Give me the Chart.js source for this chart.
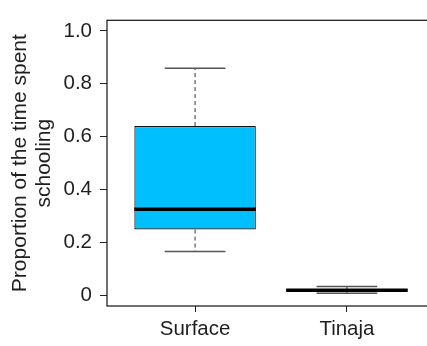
<!DOCTYPE html>
<html>
<head>
<meta charset="utf-8">
<script src="https://cdn.jsdelivr.net/npm/chart.js@4/dist/chart.umd.min.js"></script>
<style>
  html, body { margin: 0; padding: 0; background: #fff; overflow: hidden; }
  #wrap { width: 440px; height: 346px; position: relative; }
</style>
</head>
<body>
<div id="wrap"><canvas id="boxChart"></canvas></div>
<script>
// values
const categories = ["Surface", "Tinaja"];
const whiskerLow = [0.166, 0.008];
const q1 = [0.249, 0.016];
const median = [0.326, 0.020];
const q3 = [0.640, 0.024];
const whiskerHigh = [0.859, 0.034];
const yTicks = [0, 0.2, 0.4, 0.6, 0.8, 1.0];
const yTickLabels = ["0", "0.2", "0.4", "0.6", "0.8", "1.0"];

const textColor = "#1e1e1e";
const fontFamily = "Liberation Sans, Arial, sans-serif";
const boxHalf = 0.4;
const capHalf = 0.2;

// whiskers, caps, medians and the frame, all placed with the chart scales
const boxPlotLines = {
  id: "boxPlotLines",
  beforeDatasetsDraw(chart) {
    const { ctx, scales: { x, y } } = chart;
    ctx.save();
    categories.forEach((c, i) => {
      const px = x.getPixelForValue(i + 1);
      ctx.strokeStyle = "#333";
      ctx.lineWidth = 1;
      ctx.setLineDash([4, 3]);
      ctx.beginPath();
      ctx.moveTo(px, y.getPixelForValue(q3[i]));
      ctx.lineTo(px, y.getPixelForValue(whiskerHigh[i]));
      ctx.moveTo(px, y.getPixelForValue(q1[i]));
      ctx.lineTo(px, y.getPixelForValue(whiskerLow[i]));
      ctx.stroke();
      ctx.setLineDash([]);
      ctx.strokeStyle = "#555";
      ctx.lineWidth = 1.5;
      ctx.beginPath();
      [whiskerHigh[i], whiskerLow[i]].forEach((v) => {
        const py = y.getPixelForValue(v);
        ctx.moveTo(x.getPixelForValue(i + 1 - capHalf), py);
        ctx.lineTo(x.getPixelForValue(i + 1 + capHalf), py);
      });
      ctx.stroke();
    });
    ctx.restore();
  },
  afterDatasetsDraw(chart) {
    const { ctx, scales: { x, y }, chartArea } = chart;
    ctx.save();
    ctx.strokeStyle = "#000";
    ctx.lineWidth = 3.5;
    categories.forEach((c, i) => {
      const py = y.getPixelForValue(median[i]);
      ctx.beginPath();
      ctx.moveTo(x.getPixelForValue(i + 1 - boxHalf), py);
      ctx.lineTo(x.getPixelForValue(i + 1 + boxHalf), py);
      ctx.stroke();
    });
    ctx.lineWidth = 1.2;
    ctx.strokeStyle = "#111";
    ctx.strokeRect(chartArea.left, chartArea.top, chartArea.right - chartArea.left, chartArea.bottom - chartArea.top);
    ctx.restore();
  }
};

new Chart(document.getElementById("boxChart"), {
  type: "bar",
  data: {
    datasets: [{
      data: categories.map((c, i) => ({ x: i + 1, y: [q1[i], q3[i]] })),
      backgroundColor: "#00BFFF",
      borderColor: "#111",
      borderWidth: 1.2,
      borderSkipped: false,
      categoryPercentage: 0.8,
      barPercentage: 1.0
    }]
  },
  options: {
    responsive: true,
    maintainAspectRatio: false,
    animation: false,
    layout: { padding: { top: 13, right: 5, left: 0, bottom: 0 } },
    plugins: { legend: { display: false }, tooltip: { enabled: false } },
    scales: {
      x: {
        type: "linear",
        min: 0.42,
        max: 2.58,
        offset: false,
        afterFit: (scale) => { scale.height = 40; },
        afterBuildTicks: (scale) => { scale.ticks = categories.map((c, i) => ({ value: i + 1 })); },
        border: { display: false },
        grid: { offset: false, drawOnChartArea: false, drawTicks: true, tickLength: 6, color: "#222" },
        ticks: {
          padding: 5,
          color: textColor,
          font: { family: fontFamily, size: 20.5 },
          maxRotation: 0,
          callback: (v, i) => categories[i]
        }
      },
      y: {
        min: -0.04,
        max: 1.04,
        afterFit: (scale) => { scale.width = 107; },
        afterBuildTicks: (scale) => { scale.ticks = yTicks.map((v) => ({ value: v })); },
        border: { display: false },
        grid: { drawOnChartArea: false, drawTicks: true, tickLength: 7, color: "#222" },
        ticks: {
          padding: 8,
          color: textColor,
          font: { family: fontFamily, size: 20.5 },
          callback: (v, i) => yTickLabels[i]
        },
        title: {
          display: true,
          text: ["Proportion of the time spent", "schooling"],
          color: textColor,
          font: { family: fontFamily, size: 21, lineHeight: 1.15 },
          padding: { top: 8, bottom: 0 }
        }
      }
    }
  },
  plugins: [boxPlotLines]
});
</script>
</body>
</html>
